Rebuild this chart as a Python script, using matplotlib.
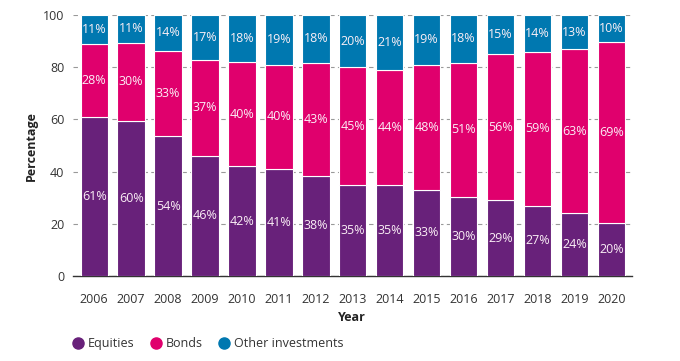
import matplotlib
matplotlib.use("Agg")
import matplotlib.pyplot as plt
from matplotlib.lines import Line2D
import numpy as np

plt.rcParams['font.family'] = ['Open Sans', 'DejaVu Sans']

years = ["2006", "2007", "2008", "2009", "2010", "2011", "2012", "2013",
         "2014", "2015", "2016", "2017", "2018", "2019", "2020"]
# estimated unrounded shares (labels show rounded values)
equities = [61, 59.6, 53.6, 46, 42, 41, 38.4, 35, 35, 33, 30.4, 29, 27, 24, 20.4]
bonds = [28, 29.8, 32.8, 37, 40, 40, 43.4, 45, 44, 48, 51.4, 56, 59, 63, 69.4]
other = [11, 10.6, 13.6, 17, 18, 19, 18.2, 20, 21, 19, 18.2, 15, 14, 13, 10.2]
series_names = ["Equities", "Bonds", "Other investments"]
colors = ["#68217A", "#E0006D", "#0078B0"]

fig = plt.figure(figsize=(6.8, 3.61), dpi=100)
ax = fig.add_axes([0.107, 0.2355, 0.822, 0.7225])

x = np.arange(len(years))
bottom = np.zeros(len(years))
for vals, col in zip([equities, bonds, other], colors):
    vals = np.array(vals, dtype=float)
    ax.bar(x, vals, bottom=bottom, width=0.74, color=col,
           edgecolor="white", linewidth=0.8, zorder=3)
    for xi, b, v in zip(x, bottom, vals):
        ax.text(xi, b + v / 2, f"{round(v)}%", ha="center", va="center",
                color="#FBEFF6", fontsize=9, zorder=4)
    bottom += vals

ax.set_xlim(-0.58, len(years) - 1 + 0.55)
ax.set_ylim(0, 100)
ax.set_yticks([0, 20, 40, 60, 80, 100])
ax.set_xticks(x)
ax.set_xticklabels(years)
ax.yaxis.grid(True, linestyle=(0, (4, 3)), color="#999999", linewidth=0.8, zorder=0)
ax.set_axisbelow(True)
for s in ["top", "right", "left"]:
    ax.spines[s].set_visible(False)
ax.spines["bottom"].set_color("#333333")
ax.spines["bottom"].set_linewidth(1.0)
ax.tick_params(axis="both", length=0, labelsize=9, colors="#333333")
ax.tick_params(axis="x", pad=12)
ax.tick_params(axis="y", pad=6)
ax.set_xlabel("Year", fontsize=9, fontweight="bold", labelpad=4, color="#222222")
ax.set_ylabel("Percentage", fontsize=9, fontweight="bold", labelpad=4, color="#222222")

handles = [Line2D([0], [0], marker="o", linestyle="none", markersize=8,
                  markerfacecolor=c, markeredgecolor=c) for c in colors]
fig.legend(handles, series_names, loc="center left", bbox_to_anchor=(0.107, 0.048),
           ncol=3, frameon=False, fontsize=9, handlelength=0.8, handletextpad=0.4,
           columnspacing=1.3, labelcolor="#333333", borderaxespad=0, borderpad=0)

fig.savefig("out.png", dpi=100)
